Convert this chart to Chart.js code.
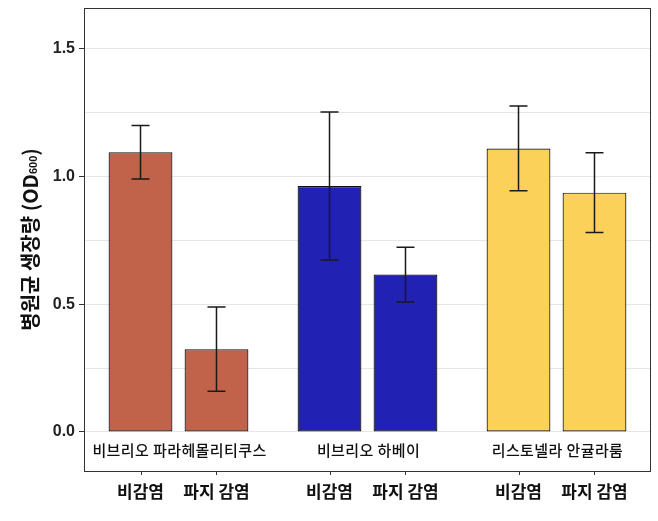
<!DOCTYPE html>
<html>
<head>
<meta charset="utf-8">
<script src="https://cdn.jsdelivr.net/npm/chart.js@4.4.1/dist/chart.umd.min.js"></script>
<style>
  html, body { margin: 0; padding: 0; background: #fff; }
  #wrap { width: 658px; height: 521px; }
</style>
</head>
<body>
<div id="wrap"><canvas id="growth"></canvas></div>
<script>
// bacteria groups and conditions
const groups = ['비브리오 파라헤몰리티쿠스', '비브리오 하베이', '리스토넬라 안귤라룸'];
const conditions = ['비감염', '파지 감염'];

// OD600 means and error (+/-)
const uninfected = [1.095, 0.963, 1.11];
const uninfectedErr = [0.105, 0.29, 0.166];
const phage = [0.324, 0.616, 0.937];
const phageErr = [0.165, 0.107, 0.156];

const yMin = -0.153;
const yMax = 1.66;
const yLabelTicks = [0, 0.5, 1.0, 1.5];

const groupColors = ['#C1634A', '#2121B3', '#FCD159'];
const korFont = '"Noto Sans CJK KR", "Noto Sans", sans-serif';
const numFont = '"Liberation Sans", Arial, sans-serif';

function isGridValue(v) {
    let q = v / 0.25;
    return Math.abs(q - Math.round(q)) < 1e-6;
}

function isLabelTick(v) {
    return yLabelTicks.some(t => Math.abs(t - v) < 1e-6);
}

const errors = [uninfectedErr, phageErr];

const errorBars = {
    id: 'errorBars',
    afterDatasetsDraw(chart) {
        let ctx = chart.ctx;
        let y = chart.scales.y;
        ctx.save();
        ctx.strokeStyle = '#1a1a1a';
        ctx.lineWidth = 1.5;
        chart.data.datasets.forEach((ds, di) => {
            let meta = chart.getDatasetMeta(di);
            meta.data.forEach((bar, i) => {
                let v = ds.data[i];
                let e = errors[di][i];
                let top = y.getPixelForValue(v + e);
                let bot = y.getPixelForValue(v - e);
                let cap = 9;
                ctx.beginPath();
                ctx.moveTo(bar.x, top); ctx.lineTo(bar.x, bot);
                ctx.moveTo(bar.x - cap, top); ctx.lineTo(bar.x + cap, top);
                ctx.moveTo(bar.x - cap, bot); ctx.lineTo(bar.x + cap, bot);
                ctx.stroke();
            });
        });
        ctx.restore();
    }
};

const frameAndLabels = {
    id: 'frameAndLabels',
    afterDraw(chart) {
        let ctx = chart.ctx;
        let area = chart.chartArea;
        let x = chart.scales.x;
        let y = chart.scales.y;
        ctx.save();

        // box round the plot
        ctx.strokeStyle = '#333';
        ctx.lineWidth = 1;
        ctx.strokeRect(area.left + 0.5, area.top + 0.5, area.right - area.left - 1, area.bottom - area.top);

        // species names inside the box, below zero
        ctx.fillStyle = '#111';
        ctx.textAlign = 'center';
        ctx.textBaseline = 'middle';
        ctx.font = '500 15px ' + korFont;
        ctx.letterSpacing = '0.4px';
        groups.forEach((g, i) => {
            ctx.fillText(g, x.getPixelForValue(i) + 1, y.getPixelForValue(-0.07));
        });
        ctx.letterSpacing = '0px';

        // condition labels and tick marks under each bar
        ctx.font = 'bold 17px ' + korFont;
        chart.data.datasets.forEach((ds, di) => {
            chart.getDatasetMeta(di).data.forEach(bar => {
                let bx = Math.round(bar.x) + 0.5;
                ctx.beginPath();
                ctx.moveTo(bx, area.bottom);
                ctx.lineTo(bx, area.bottom + 4);
                ctx.stroke();
                ctx.fillText(conditions[di], bar.x, area.bottom + 21);
            });
        });

        // y title, with subscript 600
        let main = '병원균 생장량 (OD';
        let sub = '600';
        let close = ')';
        ctx.font = 'bold 20px ' + korFont;
        let w1 = ctx.measureText(main).width;
        let w3 = ctx.measureText(close).width;
        ctx.font = 'bold 11px ' + numFont;
        let w2 = ctx.measureText(sub).width;
        let total = w1 + w2 + w3;
        ctx.translate(30, (area.top + area.bottom) / 2);
        ctx.rotate(-Math.PI / 2);
        ctx.textAlign = 'left';
        ctx.font = 'bold 20px ' + korFont;
        ctx.fillText(main, -total / 2, 0);
        ctx.font = 'bold 11px ' + numFont;
        ctx.fillText(sub, -total / 2 + w1, 4);
        ctx.font = 'bold 20px ' + korFont;
        ctx.fillText(close, -total / 2 + w1 + w2, 0);

        ctx.restore();
    }
};

new Chart(document.getElementById('growth'), {
    type: 'bar',
    data: {
        labels: groups,
        datasets: [
            {
                label: conditions[0],
                data: uninfected,
                backgroundColor: groupColors,
                borderColor: '#111',
                borderWidth: 1.2,
                borderSkipped: false
            },
            {
                label: conditions[1],
                data: phage,
                backgroundColor: groupColors,
                borderColor: '#111',
                borderWidth: 1.2,
                borderSkipped: false
            }
        ]
    },
    options: {
        responsive: true,
        maintainAspectRatio: false,
        animation: false,
        categoryPercentage: 0.804,
        barPercentage: 0.84,
        layout: { padding: { left: 0, right: 7, top: 8, bottom: 50 } },
        plugins: {
            legend: { display: false },
            tooltip: { enabled: false }
        },
        scales: {
            x: {
                display: false
            },
            y: {
                min: yMin,
                max: yMax,
                afterFit: function(scale) {
                    scale.width = 84;
                    scale.paddingTop = 0;
                    scale.paddingBottom = 0;
                },
                border: { display: true, color: '#333' },
                grid: {
                    color: ctx => (ctx.tick && isGridValue(ctx.tick.value)) ? '#e6e6e6' : 'rgba(0,0,0,0)',
                    tickColor: ctx => (ctx.tick && isLabelTick(ctx.tick.value)) ? '#333' : 'rgba(0,0,0,0)',
                    tickLength: 5
                },
                ticks: {
                    stepSize: 0.25,
                    padding: 4,
                    color: '#222',
                    font: { family: numFont, size: 16, weight: 'bold' },
                    callback: v => isLabelTick(v) ? v.toFixed(1) : ''
                }
            }
        }
    },
    plugins: [errorBars, frameAndLabels]
});
</script>
</body>
</html>
